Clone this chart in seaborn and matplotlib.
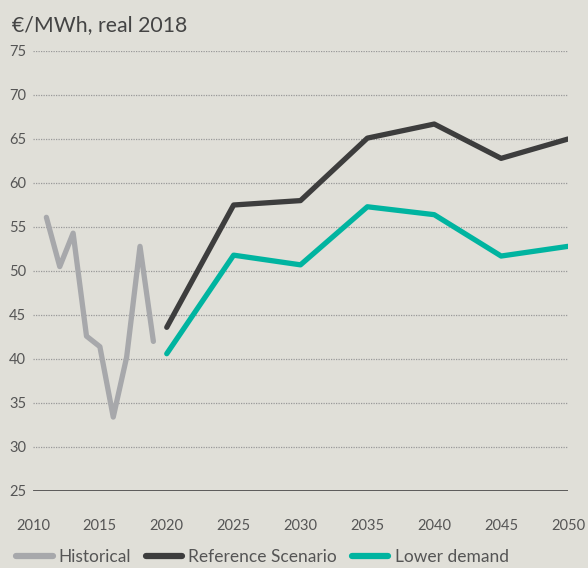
import matplotlib
matplotlib.use("Agg")
import matplotlib.pyplot as plt
import seaborn as sns
import pandas as pd

hist_years = [2011, 2012, 2013, 2014, 2015, 2016, 2017, 2018, 2019]
hist_vals = [56.1, 50.5, 54.3, 42.6, 41.4, 33.4, 40.2, 52.8, 42.0]
scen_years = [2020, 2025, 2030, 2035, 2040, 2045, 2050]
ref_vals = [43.6, 57.5, 58.0, 65.1, 66.7, 62.8, 65.0]
low_vals = [40.6, 51.8, 50.7, 57.3, 56.4, 51.7, 52.8]
series_names = ["Historical", "Reference Scenario", "Lower demand"]
colors = ["#a7a8ab", "#3d3d3d", "#00b4a0"]
x_ticks = [2010, 2015, 2020, 2025, 2030, 2035, 2040, 2045, 2050]
y_ticks = [25, 30, 35, 40, 45, 50, 55, 60, 65, 70, 75]
title = "€/MWh, real 2018"

df = pd.concat([
    pd.DataFrame({"year": hist_years, "value": hist_vals, "series": series_names[0]}),
    pd.DataFrame({"year": scen_years, "value": ref_vals, "series": series_names[1]}),
    pd.DataFrame({"year": scen_years, "value": low_vals, "series": series_names[2]}),
])

sns.set_theme(style="white")
plt.rcParams["font.family"] = ["Lato", "DejaVu Sans"]
bg = "#e0dfd8"
fig = plt.figure(figsize=(5.88, 5.68), dpi=100, facecolor=bg)
ax = fig.add_axes([33/588, 1-491/568, 535/588, 440/568], facecolor=bg)

ax.set_xlim(2010, 2050)
ax.set_ylim(25, 75)
for y in y_ticks[1:]:
    ax.axhline(y, color="#999999", lw=0.9, ls=(0, (1, 1.0)), zorder=1)
ax.axhline(25, color="#333333", lw=1.8, zorder=2)

sns.lineplot(data=df, x="year", y="value", hue="series", palette=dict(zip(series_names, colors)),
             linewidth=3.8, ax=ax, legend=False, zorder=3)
for ln in ax.lines:
    if ln.get_linewidth() > 3:
        ln.set_solid_capstyle("round")

for s in ax.spines.values():
    s.set_visible(False)
ax.set_xticks(x_ticks)
ax.set_yticks(y_ticks)
ax.tick_params(axis="x", length=0, pad=20, labelsize=10.5, labelcolor="#555555")
ax.tick_params(axis="y", length=0, pad=5, labelsize=10.5, labelcolor="#555555")
ax.set_xlabel("")
ax.set_ylabel("")

fig.text(12/588, 1-25/568, title, fontsize=15.3, color="#444444", va="center", ha="left")

from matplotlib.lines import Line2D
handles = [Line2D([0], [0], color=c, lw=4.5, solid_capstyle="round") for c in colors]
leg = fig.legend(handles, series_names, loc="center left", bbox_to_anchor=(4/588, 1-557/568),
                 ncol=3, frameon=False, fontsize=12.5, handlelength=2.1, handletextpad=0.35,
                 columnspacing=0.85, labelcolor="#555555", borderpad=0.2)

fig.savefig("out.png", dpi=100, facecolor=bg)
